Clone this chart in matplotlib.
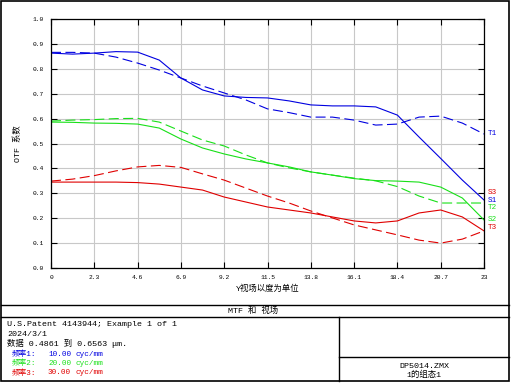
import matplotlib
matplotlib.use('Agg')
import matplotlib.pyplot as plt
from matplotlib.lines import Line2D

plt.rcParams['font.family'] = ['Liberation Mono', 'Noto Sans CJK SC', 'DejaVu Sans']

# field (degrees)
field = [0.0, 1.15, 2.3, 3.45, 4.6, 5.75, 6.9, 8.05, 9.2, 10.35, 11.5,
         12.65, 13.8, 14.95, 16.1, 17.25, 18.4, 19.55, 20.7, 21.85, 23.0]

# MTF, T = dashed, S = solid
t1 = [0.866, 0.866, 0.863, 0.847, 0.823, 0.795, 0.763, 0.731, 0.703, 0.675, 0.639,
      0.624, 0.606, 0.606, 0.594, 0.574, 0.578, 0.606, 0.610, 0.582, 0.538]
s1 = [0.863, 0.859, 0.863, 0.869, 0.867, 0.835, 0.763, 0.715, 0.691, 0.685, 0.683,
      0.671, 0.655, 0.651, 0.651, 0.647, 0.614, 0.526, 0.440, 0.353, 0.273]
t2 = [0.590, 0.594, 0.596, 0.600, 0.601, 0.586, 0.550, 0.514, 0.490, 0.454, 0.422,
      0.402, 0.386, 0.373, 0.361, 0.350, 0.327, 0.289, 0.261, 0.261, 0.261]
s2 = [0.586, 0.585, 0.582, 0.581, 0.578, 0.562, 0.518, 0.482, 0.458, 0.438, 0.422,
      0.406, 0.386, 0.373, 0.359, 0.351, 0.349, 0.345, 0.325, 0.281, 0.193]
t3 = [0.349, 0.357, 0.371, 0.390, 0.406, 0.412, 0.404, 0.378, 0.353, 0.321, 0.289,
      0.261, 0.229, 0.201, 0.173, 0.153, 0.133, 0.112, 0.100, 0.116, 0.149]
s3 = [0.345, 0.345, 0.345, 0.345, 0.343, 0.337, 0.325, 0.313, 0.285, 0.265, 0.245,
      0.233, 0.221, 0.205, 0.189, 0.181, 0.189, 0.221, 0.233, 0.205, 0.149]

xticks = [0, 2.3, 4.6, 6.9, 9.2, 11.5, 13.8, 16.1, 18.4, 20.7, 23.0]
xticklabels = ['0', '2.3', '4.6', '6.9', '9.2', '11.5', '13.8', '16.1', '18.4', '20.7', '23']
yticks = [0.0, 0.1, 0.2, 0.3, 0.4, 0.5, 0.6, 0.7, 0.8, 0.9, 1.0]

end_labels = ['T1', 'S3', 'S1', 'T2', 'S2', 'T3']
end_label_y = [0.542, 0.305, 0.273, 0.241, 0.193, 0.161]

BLUE = '#0000e0'
GREEN = '#18e018'
RED = '#e00000'
end_label_colors = [BLUE, RED, BLUE, GREEN, GREEN, RED]

W, H = 511, 383
fig = plt.figure(figsize=(W / 100, H / 100), dpi=100)


def fx(x):
    return x / W


def fy(y):
    return 1 - y / H


ax = fig.add_axes([fx(51), fy(268), 433 / W, 249 / H])
dash = (0, (9, 4))
ax.plot(field, t1, color=BLUE, lw=0.8, linestyle=dash)
ax.plot(field, s1, color=BLUE, lw=0.8)
ax.plot(field, t2, color=GREEN, lw=0.8, linestyle=dash)
ax.plot(field, s2, color=GREEN, lw=0.8)
ax.plot(field, t3, color=RED, lw=0.8, linestyle=dash)
ax.plot(field, s3, color=RED, lw=0.8)

ax.set_xlim(0, 23)
ax.set_ylim(0, 1)
ax.set_xticks(xticks)
ax.set_xticklabels(xticklabels)
ax.set_yticks(yticks)
ax.set_yticklabels(['%.1f' % v for v in yticks])
ax.grid(True, color='#c8c8c8', lw=0.8)
ax.tick_params(direction='in', length=4, width=0.8, labelsize=4.5,
               top=True, right=True, pad=5)
for sp in ax.spines.values():
    sp.set_linewidth(0.9)

ax.set_xlabel('Y视场以度为单位', fontsize=6, labelpad=3)
ax.set_ylabel('OTF 系数', fontsize=6, labelpad=8)

for lab, yy, c in zip(end_labels, end_label_y, end_label_colors):
    ax.text(23.2, yy, lab, color=c, fontsize=5.5, va='center', ha='left', clip_on=False)

# frames
fig.add_artist(plt.Rectangle((fx(1), fy(381)), 508 / W, 380 / H, fill=False,
                             edgecolor='black', lw=1.2, transform=fig.transFigure))
for (x0, y0, x1, y1) in [(1, 305, 509, 305), (1, 317, 509, 317),
                         (339, 317, 339, 381), (339, 357, 509, 357)]:
    fig.add_artist(Line2D([fx(x0), fx(x1)], [fy(y0), fy(y1)], color='black', lw=1.0))

fs = 6
fig.text(fx(253), fy(311), 'MTF 和 视场', ha='center', va='center', fontsize=fs)
fig.text(fx(7), fy(325), 'U.S.Patent 4143944; Example 1 of 1', va='center', fontsize=fs)
fig.text(fx(7), fy(334), '2024/3/1', va='center', fontsize=fs)
fig.text(fx(7), fy(344), '数据 0.4861 到 0.6563 μm.', va='center', fontsize=fs)
freq_colors = [BLUE, GREEN, RED]
freqs = ['10.00', '20.00', '30.00']
for i, (c, f) in enumerate(zip(freq_colors, freqs)):
    yy = 354 + i * 9.5
    fig.text(fx(12), fy(yy), '频率%d:' % (i + 1), color=c, va='center', fontsize=5.5)
    fig.text(fx(48), fy(yy), f, color=c, va='center', fontsize=5.5)
    fig.text(fx(75), fy(yy), 'cyc/mm', color=c, va='center', fontsize=5.5)

fig.text(fx(424), fy(366), 'DP5014.ZMX', ha='center', va='center', fontsize=fs)
fig.text(fx(424), fy(375), '1的组态1', ha='center', va='center', fontsize=fs)

fig.savefig('out.png', dpi=100)
